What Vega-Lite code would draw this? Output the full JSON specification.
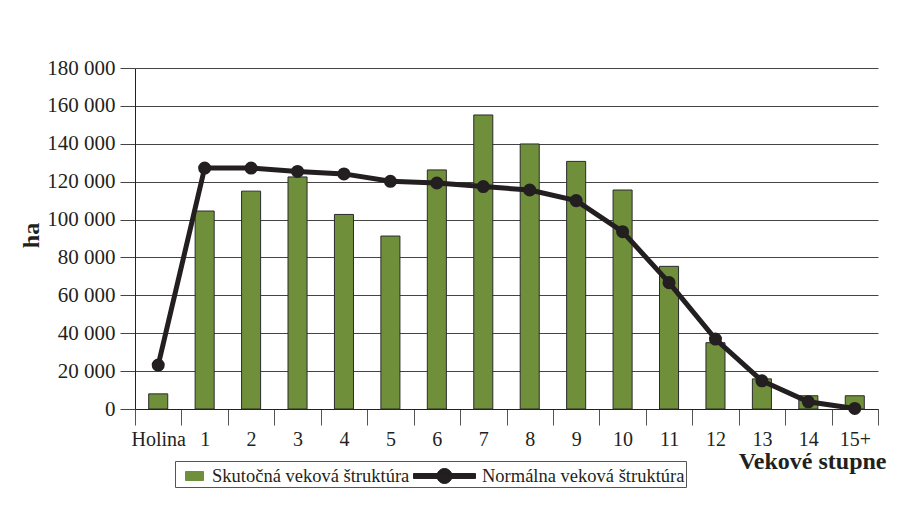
{
  "$schema": "https://vega.github.io/schema/vega-lite/v6.json",
  "width": 743,
  "height": 341,
  "autosize": {"type": "none"},
  "padding": {"left": 135, "top": 68, "right": 30, "bottom": 119},
  "background": "white",
  "data": {
    "values": [
      {"stupen": "Holina", "skutocna": 8000, "normalna": 23200},
      {"stupen": "1", "skutocna": 104500, "normalna": 127200},
      {"stupen": "2", "skutocna": 115000, "normalna": 127200},
      {"stupen": "3", "skutocna": 122500, "normalna": 125400},
      {"stupen": "4", "skutocna": 102700, "normalna": 124100},
      {"stupen": "5", "skutocna": 91300, "normalna": 120200},
      {"stupen": "6", "skutocna": 126200, "normalna": 119300},
      {"stupen": "7", "skutocna": 155200, "normalna": 117400},
      {"stupen": "8", "skutocna": 139900, "normalna": 115600},
      {"stupen": "9", "skutocna": 130700, "normalna": 110000},
      {"stupen": "10", "skutocna": 115600, "normalna": 93600},
      {"stupen": "11", "skutocna": 75300, "normalna": 66700},
      {"stupen": "12", "skutocna": 35000, "normalna": 36900},
      {"stupen": "13", "skutocna": 15900, "normalna": 14900},
      {"stupen": "14", "skutocna": 7000, "normalna": 3800},
      {"stupen": "15+", "skutocna": 7000, "normalna": 300}
    ]
  },
  "encoding": {
    "x": {
      "field": "stupen",
      "type": "nominal",
      "sort": null,
      "scale": {"paddingInner": 0, "paddingOuter": 0},
      "axis": {
        "title": "Vekové stupne",
        "titleFont": "Liberation Serif",
        "titleFontSize": 24,
        "titleFontWeight": "bold",
        "titleColor": "#231f20",
        "titleX": 751,
        "titleY": 59,
        "titleAlign": "right",
        "titleBaseline": "alphabetic",
        "labelAngle": 0,
        "labelFont": "Liberation Serif",
        "labelFontSize": 20,
        "labelColor": "#231f20",
        "labelPadding": 4,
        "tickBand": "extent",
        "tickSize": 16,
        "tickColor": "#555555",
        "domainColor": "#222222",
        "grid": false
      }
    }
  },
  "layer": [
    {
      "mark": {"type": "bar", "width": {"band": 0.41}, "stroke": "#2b2b2b", "strokeWidth": 1},
      "encoding": {
        "y": {
          "field": "skutocna",
          "type": "quantitative",
          "scale": {"domain": [0, 180000], "nice": false},
          "axis": {
            "title": "ha",
            "titleFont": "Liberation Serif",
            "titleFontSize": 24,
            "titleFontWeight": "bold",
            "titleColor": "#231f20",
            "titleX": -97,
            "titleY": 167,
            "titleAngle": -90,
            "titleAlign": "center",
            "titleBaseline": "alphabetic",
            "values": [0, 20000, 40000, 60000, 80000, 100000, 120000, 140000, 160000, 180000],
            "labelExpr": "replace(format(datum.value, ','), ',', ' ')",
            "labelOverlap": false,
            "labelBound": false,
            "labelFont": "Liberation Serif",
            "labelFontSize": 21,
            "labelColor": "#231f20",
            "labelPadding": 5,
            "tickSize": 15,
            "tickColor": "#444444",
            "domainColor": "#222222",
            "grid": true,
            "gridColor": "#444444",
            "gridWidth": 1
          }
        },
        "color": {
          "datum": "Skutočná veková štruktúra",
          "type": "nominal",
          "scale": {
            "domain": ["Skutočná veková štruktúra", "Normálna veková štruktúra"],
            "range": ["#6f8f3b", "#231f20"]
          },
          "legend": {
            "title": null,
            "orient": "none",
            "legendX": 40,
            "legendY": 393,
            "direction": "horizontal",
            "columns": 2,
            "padding": 1,
            "strokeColor": "#555555",
            "fillColor": "white",
            "columnPadding": 1,
            "labelFont": "Liberation Serif",
            "labelFontSize": 18.5,
            "labelColor": "#231f20",
            "labelLimit": 400,
            "labelOffset": 9,
            "symbolSize": 676,
            "symbolStrokeWidth": 0,
            "encoding": {
              "symbols": {
                "shape": {"condition": {"test": "datum.value === 'Skutočná veková štruktúra'", "value": "M-0.308,-0.346H1.077V0.346H-0.308Z"}, "value": "M-3.538,-0.19H1.231V0.19H-3.538Z M-1.731,0A0.577,0.577 0 1,1 -0.577,0A0.577,0.577 0 1,1 -1.731,0Z"},
                "fill": {"condition": {"test": "datum.value === 'Skutočná veková štruktúra'", "value": "#6f8f3b"}, "value": "#231f20"},
                "stroke": {"value": "#231f20"},
                "strokeWidth": {"value": 1},
                "opacity": {"value": 1},
                "fillOpacity": {"value": 1}
              }
            }
          }
        }
      }
    },
    {
      "mark": {"type": "line", "strokeWidth": 5, "point": {"filled": true, "size": 170}},
      "encoding": {
        "y": {
          "field": "normalna",
          "type": "quantitative",
          "axis": {
            "title": "ha",
            "titleFont": "Liberation Serif",
            "titleFontSize": 24,
            "titleFontWeight": "bold",
            "titleColor": "#231f20",
            "titleX": -97,
            "titleY": 167,
            "titleAngle": -90,
            "titleAlign": "center",
            "titleBaseline": "alphabetic",
            "values": [0, 20000, 40000, 60000, 80000, 100000, 120000, 140000, 160000, 180000],
            "labelExpr": "replace(format(datum.value, ','), ',', ' ')",
            "labelOverlap": false,
            "labelBound": false,
            "labelFont": "Liberation Serif",
            "labelFontSize": 21,
            "labelColor": "#231f20",
            "labelPadding": 5,
            "tickSize": 15,
            "tickColor": "#444444",
            "domainColor": "#222222",
            "grid": true,
            "gridColor": "#444444",
            "gridWidth": 1
          }
        },
        "color": {"datum": "Normálna veková štruktúra", "type": "nominal"}
      }
    }
  ],
  "config": {
    "view": {"stroke": null},
    "font": "Liberation Serif"
  }
}
